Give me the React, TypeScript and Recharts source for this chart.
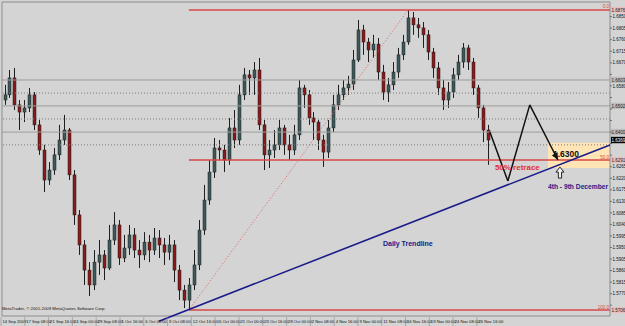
import React from "react";
import {
  Bar,
  ComposedChart,
  ReferenceArea,
  ReferenceDot,
  ReferenceLine,
  XAxis,
  YAxis,
} from "recharts";

// GBPUSD H4, 14 Sep - 26 Nov 2009
const opens = [
  1.6525, 1.6545, 1.6611, 1.6506, 1.6478, 1.6494, 1.6545, 1.6428, 1.633, 1.6213,
  1.6252, 1.6311, 1.6369, 1.6408, 1.6233, 1.6077, 1.596, 1.5862, 1.5804, 1.5893,
  1.5921, 1.587, 1.5979, 1.6038, 1.5909, 1.5948, 1.5999, 1.594, 1.5921, 1.5971,
  1.594, 1.5987, 1.596, 1.5932, 1.596, 1.5862, 1.5784, 1.5745, 1.5804, 1.5882,
  1.6018, 1.6135, 1.6244, 1.6338, 1.633, 1.6291, 1.6416, 1.6369, 1.6545, 1.6623,
  1.6611, 1.6642, 1.6428, 1.6311, 1.633, 1.635, 1.6416, 1.635, 1.633, 1.6389,
  1.6572, 1.6545, 1.6455, 1.6439, 1.6369, 1.6322, 1.6416, 1.6506, 1.6545, 1.6572,
  1.6587, 1.6681, 1.6798, 1.6751, 1.672, 1.6743, 1.6634, 1.6556, 1.6584, 1.6634,
  1.6701, 1.6751, 1.6845, 1.6818, 1.6806, 1.6779, 1.6712, 1.665, 1.6572, 1.6525,
  1.6556, 1.6623, 1.6673, 1.6728, 1.6673, 1.6572, 1.6494, 1.6408,
];
const closes = [
  1.6545, 1.6611, 1.6506, 1.6478, 1.6494, 1.6545, 1.6428, 1.633, 1.6213, 1.6252,
  1.6311, 1.6369, 1.6408, 1.6233, 1.6077, 1.596, 1.5862, 1.5804, 1.5893, 1.5921,
  1.587, 1.5979, 1.6038, 1.5909, 1.5948, 1.5999, 1.594, 1.5921, 1.5971, 1.594,
  1.5987, 1.596, 1.5932, 1.596, 1.5862, 1.5784, 1.5745, 1.5804, 1.5882, 1.6018,
  1.6135, 1.6244, 1.6338, 1.633, 1.6291, 1.6416, 1.6369, 1.6545, 1.6623, 1.6611,
  1.6642, 1.6428, 1.6311, 1.633, 1.635, 1.6416, 1.635, 1.633, 1.6389, 1.6572,
  1.6545, 1.6455, 1.6439, 1.6369, 1.6322, 1.6416, 1.6506, 1.6545, 1.6572, 1.6587,
  1.6681, 1.6798, 1.6751, 1.672, 1.6743, 1.6634, 1.6556, 1.6584, 1.6634, 1.6701,
  1.6751, 1.6845, 1.6818, 1.6806, 1.6779, 1.6712, 1.665, 1.6572, 1.6525, 1.6556,
  1.6623, 1.6673, 1.6728, 1.6673, 1.6572, 1.6494, 1.6408, 1.6369,
];
const highs = [
  1.6584, 1.6642, 1.665, 1.6525, 1.6525, 1.6572, 1.6556, 1.6447, 1.635, 1.6283,
  1.6338, 1.6428, 1.6467, 1.6416, 1.6252, 1.6096, 1.5979, 1.5893, 1.594, 1.5979,
  1.594, 1.6038, 1.6088, 1.6057, 1.5999, 1.6038, 1.6026, 1.5979, 1.601, 1.5999,
  1.6026, 1.6018, 1.5987, 1.5999, 1.5979, 1.5882, 1.5804, 1.5831, 1.594, 1.6057,
  1.6194, 1.6291, 1.6377, 1.6369, 1.635, 1.6455, 1.6486, 1.6584, 1.665, 1.6642,
  1.6673, 1.6689, 1.6447, 1.6369, 1.6408, 1.6447, 1.6428, 1.6389, 1.6428, 1.6603,
  1.6584, 1.6564, 1.6478, 1.6447, 1.6389, 1.6447, 1.6545, 1.6584, 1.6603, 1.6619,
  1.672, 1.6837, 1.6818, 1.6767, 1.6779, 1.6767, 1.6662, 1.6611, 1.6673, 1.6728,
  1.6779, 1.6876, 1.6868, 1.6845, 1.6829, 1.6798, 1.6728, 1.6673, 1.6603, 1.6595,
  1.665, 1.6701, 1.6747, 1.674, 1.6689, 1.6584, 1.6506, 1.6428,
];
const lows = [
  1.6506, 1.6533, 1.6486, 1.6408, 1.6439, 1.6478, 1.6408, 1.6311, 1.6166, 1.6194,
  1.6233, 1.6291, 1.635, 1.6213, 1.6038, 1.5921, 1.5804, 1.5761, 1.5784, 1.5843,
  1.5823, 1.5862, 1.596, 1.5882, 1.5893, 1.5921, 1.5909, 1.587, 1.5901, 1.5893,
  1.5921, 1.5909, 1.5882, 1.5901, 1.5815, 1.5745, 1.5714, 1.5706, 1.5784, 1.5862,
  1.5999, 1.6116, 1.6221, 1.6291, 1.6244, 1.6272, 1.6338, 1.635, 1.6525, 1.6545,
  1.6545, 1.6408, 1.6252, 1.626, 1.6299, 1.633, 1.6311, 1.6291, 1.6311, 1.6369,
  1.6494, 1.6428, 1.6369, 1.633, 1.6264, 1.6299, 1.64, 1.6486, 1.6525, 1.6545,
  1.6564, 1.6673, 1.6701, 1.6673, 1.6689, 1.6603, 1.6525, 1.6517, 1.6564, 1.6611,
  1.6681, 1.674, 1.6779, 1.6767, 1.6728, 1.6681, 1.6611, 1.6545, 1.6486, 1.6494,
  1.6533, 1.6603, 1.665, 1.6642, 1.6545, 1.6455, 1.6361, 1.6272,
];

const timeLabels = [
  "14 Sep 2009", "17 Sep 08:00", "21 Sep 16:00", "24 Sep 00:00", "29 Sep 08:00",
  "1 Oct 16:00", "6 Oct 00:00", "9 Oct 08:00", "12 Oct 16:00", "16 Oct 00:00",
  "21 Oct 00:00", "23 Oct 16:00", "28 Oct 00:00", "2 Nov 08:00", "4 Nov 16:00",
  "9 Nov 00:00", "11 Nov 08:00", "16 Nov 16:00", "19 Nov 00:00", "24 Nov 08:00",
  "26 Nov 16:00",
];

const priceTicks = [
  1.5725, 1.577, 1.5815, 1.586, 1.5905, 1.595, 1.5995, 1.604, 1.6085, 1.613,
  1.6175, 1.622, 1.6265, 1.631, 1.6355, 1.64, 1.6445, 1.649, 1.6535, 1.658,
  1.6625, 1.667, 1.6715, 1.676, 1.6805, 1.685,
];

// horizontal S/R lines: [price, dotted]
const srLevels: [number, boolean][] = [
  [1.6603, false],
  [1.6552, true],
  [1.6502, false],
  [1.6451, true],
  [1.64, false],
  [1.635, true],
];

const fibHigh = 1.6876;
const fibMid = 1.6291;
const fibLow = 1.5706;
const fibStartBar = 37;
const fibEndBar = 81;

const trendStart = { x: 31, y: 1.5663 };
const trendEnd = { x: 121.5, y: 1.635 };

const zigzag = [
  { x: 97.4, y: 1.64 },
  { x: 101, y: 1.6209 },
  { x: 105.4, y: 1.6506 },
  { x: 111.05, y: 1.6291 },
];

const targetPrice = "1.6300";
const lastPrice = closes[closes.length - 1];

const data = closes.map((c, i) => ({
  i,
  open: opens[i],
  close: c,
  high: highs[i],
  low: lows[i],
  range: [lows[i], highs[i]],
}));

const BG = "#d4d4d4";
const FIB_RED = "#d84848";
const NAVY = "#1a1a8a";
const XMAX = 121.5;
const FONT = "Liberation Sans, Arial, sans-serif";

// prices that carry a tag on the price scale; plain tick labels next to them are skipped
const taggedPrices = [...srLevels.map((l) => l[0]), fibHigh, fibMid, fibLow, lastPrice];

function Candle(props: any) {
  const { x, y, width, height, payload } = props;
  const { open, close, high, low } = payload;
  const top = Math.min(y, y + height);
  const h = Math.abs(height);
  const span = high - low || 1e-9;
  const py = (v: number) => top + ((high - v) / span) * h;
  const up = close >= open;
  const cx = Math.round(x + width / 2) + 0.5;
  const bTop = py(Math.max(open, close));
  const bBot = py(Math.min(open, close));
  return (
    <g>
      <line x1={cx} x2={cx} y1={top} y2={top + h} stroke="#1e1e1e" strokeWidth={1} />
      <rect
        x={cx - 1.5}
        y={bTop}
        width={3}
        height={Math.max(1, bBot - bTop)}
        fill={up ? "#3c5a5a" : "#8b1a1a"}
        stroke="#1e1e1e"
        strokeWidth={0.5}
      />
    </g>
  );
}

const TimeTick = (props: any) => {
  const { x, index } = props;
  return (
    <g>
      <line x1={x - 1} x2={x - 1} y1={317} y2={326} stroke="#8a8a8a" strokeWidth={0.6} />
      <text x={x + 0.5} y={323.3} fontSize={4.2} fontFamily={FONT} fill="#111">
        {timeLabels[index]}
      </text>
    </g>
  );
};

const PriceTick = (props: any) => {
  const { y, payload } = props;
  const v = payload.value as number;
  const hidden = taggedPrices.some((t) => Math.abs(t - v) < 0.0022);
  return (
    <g>
      <line x1={610} x2={612} y1={y} y2={y} stroke="#333" strokeWidth={0.6} />
      {!hidden && (
        <text x={612.5} y={y + 1.7} fontSize={4.5} fontFamily={FONT} fill="#111">
          {v.toFixed(4)}
        </text>
      )}
    </g>
  );
};

const axisTag = (text: string, fill: string, color: string) => (p: any) => (
  <g>
    <rect x={p.cx + 1} y={p.cy - 3.2} width={15} height={6.4} fill={fill} />
    <text x={p.cx + 1.5} y={p.cy + 1.7} fontSize={4.5} fontFamily={FONT} fill={color}>
      {text}
    </text>
  </g>
);

const textShape = (
  text: string,
  size: number,
  color: string,
  anchor: "start" | "end" = "start",
  weight: string = "bold"
) => (p: any) => (
  <text
    x={p.cx}
    y={p.cy}
    fontSize={size}
    fontFamily={FONT}
    fontWeight={weight}
    fill={color}
    textAnchor={anchor}
  >
    {text}
  </text>
);

export default function App() {
  // S/R tags that sit too close to each other: keep every other one
  const srTags = srLevels.filter((_, k) => k % 2 === 0);
  return (
    <div style={{ position: "absolute", left: 0, top: 0, width: 625, height: 326, background: BG }}>
      <ComposedChart
        width={625}
        height={326}
        data={data}
        margin={{ top: 2, right: 0, left: 2, bottom: 0 }}
      >
        <XAxis
          type="number"
          dataKey="i"
          domain={[-0.5, XMAX]}
          allowDataOverflow
          ticks={timeLabels.map((_, k) => k * 4.775 - 0.5)}
          interval={0}
          tick={<TimeTick />}
          tickLine={false}
          axisLine={false}
          height={10}
        />
        <YAxis
          type="number"
          orientation="right"
          domain={[1.5683, 1.6907]}
          allowDataOverflow
          ticks={priceTicks}
          interval={0}
          tick={<PriceTick />}
          tickLine={false}
          axisLine={false}
          width={15}
        />

        <ReferenceArea
          x1={109.05}
          x2={XMAX}
          y1={1.626}
          y2={1.6358}
          fill="#ffe4b5"
          fillOpacity={1}
          stroke="none"
          ifOverflow="visible"
        />

        {srLevels.map(([v, dotted]) => (
          <ReferenceLine
            key={v}
            y={v}
            stroke={dotted ? "#7a7a7a" : "#9c9c9c"}
            strokeWidth={1}
            strokeDasharray={dotted ? "1 2" : undefined}
          />
        ))}

        <Bar
          dataKey="range"
          barSize={3}
          shape={<Candle />}
          isAnimationActive={false}
        />

        {[fibHigh, fibMid, fibLow].map((v) => (
          <ReferenceLine
            key={v}
            segment={[
              { x: fibStartBar, y: v },
              { x: XMAX, y: v },
            ]}
            stroke={FIB_RED}
            strokeWidth={1.5}
            ifOverflow="visible"
          />
        ))}
        <ReferenceLine
          segment={[
            { x: fibStartBar, y: fibLow },
            { x: fibEndBar, y: fibHigh },
          ]}
          stroke="#e06060"
          strokeWidth={1}
          strokeDasharray="1 2"
          ifOverflow="visible"
        />

        <ReferenceLine
          segment={[trendStart, trendEnd]}
          stroke={NAVY}
          strokeWidth={1.6}
          ifOverflow="visible"
        />

        {zigzag.slice(1).map((p, k) => (
          <ReferenceLine
            key={k}
            segment={[zigzag[k], p]}
            stroke="#111"
            strokeWidth={1.5}
            ifOverflow="visible"
          />
        ))}
        <ReferenceDot
          x={zigzag[3].x}
          y={zigzag[3].y}
          ifOverflow="visible"
          shape={(p: any) => (
            <path
              d="M0,0 L-7,-3.2 L-7,3.2 Z"
              fill="#111"
              transform={`translate(${p.cx},${p.cy}) rotate(63)`}
            />
          )}
        />

        {/* fib level labels */}
        <ReferenceDot x={XMAX} y={fibHigh} ifOverflow="visible" shape={(p: any) => (
          <text x={p.cx - 1} y={p.cy - 1.5} fontSize={4.5} fontFamily={FONT} fill={FIB_RED} textAnchor="end">0.0</text>
        )} />
        <ReferenceDot x={XMAX} y={fibMid} ifOverflow="visible" shape={(p: any) => (
          <text x={p.cx - 1} y={p.cy - 1.5} fontSize={4.5} fontFamily={FONT} fill={FIB_RED} textAnchor="end">50.0</text>
        )} />
        <ReferenceDot x={XMAX} y={fibLow} ifOverflow="visible" shape={(p: any) => (
          <text x={p.cx - 1} y={p.cy - 1.5} fontSize={4.5} fontFamily={FONT} fill={FIB_RED} textAnchor="end">100.0</text>
        )} />

        {/* price axis tags */}
        {srTags.map(([v]) => (
          <ReferenceDot key={"t" + v} x={XMAX} y={v} ifOverflow="visible" shape={axisTag(v.toFixed(4), "#bdbdbd", "#222")} />
        ))}
        {[fibHigh, fibMid, fibLow].map((v) => (
          <ReferenceDot key={"f" + v} x={XMAX} y={v} ifOverflow="visible" shape={axisTag(v.toFixed(4), "#e8c0c0", "#222")} />
        ))}
        <ReferenceDot
          x={XMAX}
          y={lastPrice}
          ifOverflow="visible"
          shape={axisTag(lastPrice.toFixed(4), "#000", "#fff")}
        />

        {/* annotations */}
        <ReferenceDot x={110.05} y={1.6303} ifOverflow="visible" shape={textShape(targetPrice, 8.5, "#111")} />
        <ReferenceDot x={98.4} y={1.6252} ifOverflow="visible" shape={textShape("50% retrace", 8, "#e03030")} />
        <ReferenceDot x={109.05} y={1.6178} ifOverflow="visible" shape={textShape("4th - 9th December", 6.7, NAVY)} />
        <ReferenceDot x={75.94} y={1.5956} ifOverflow="visible" shape={textShape("Daily Trendline", 7, NAVY)} />
        <ReferenceDot
          x={111.46}
          y={1.624}
          ifOverflow="visible"
          shape={(p: any) => (
            <path
              d="M0,-6 L4,-1 L1.6,-1 L1.6,5 L-1.6,5 L-1.6,-1 L-4,-1 Z"
              fill="#f0f0f0"
              stroke="#111"
              strokeWidth={0.9}
              transform={`translate(${p.cx},${p.cy})`}
            />
          )}
        />
        <ReferenceDot
          x={-0.5}
          y={fibLow}
          ifOverflow="visible"
          shape={textShape("MetaTrader, © 2001-2009 MetaQuotes Software Corp.", 4.3, "#111", "start", "normal")}
        />

        {/* chart frame */}
        <ReferenceArea
          x1={-0.5}
          x2={XMAX}
          y1={1.5683}
          y2={1.6907}
          fill="none"
          stroke="#8c8c8c"
          strokeWidth={1}
          ifOverflow="visible"
        />
      </ComposedChart>
    </div>
  );
}
